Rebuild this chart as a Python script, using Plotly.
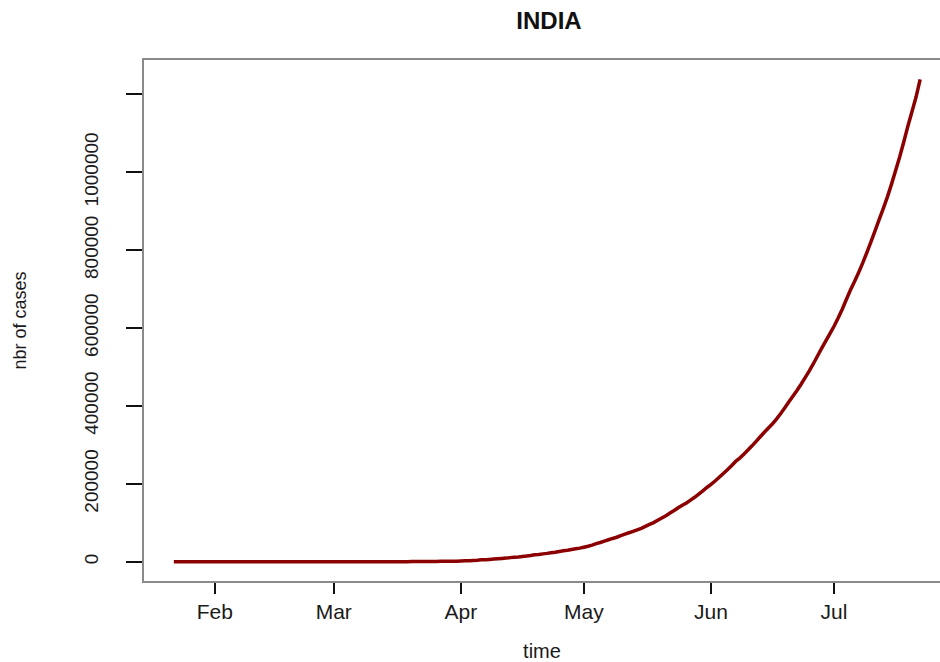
import pandas as pd
import plotly.graph_objects as go

# Cumulative confirmed COVID-19 cases in India, one value per day
start_date = "2020-01-22"
end_date = "2020-07-22"

cases_jan = [0, 0, 0, 0, 0, 0, 0, 0, 1, 1]
cases_feb = [1, 2] + [3] * 27
cases_mar = [3, 5, 5, 28, 30, 31, 34, 39, 43, 56, 62, 73, 82, 102, 113, 119,
             142, 156, 194, 244, 330, 396, 499, 536, 657, 727, 887, 987, 1024,
             1251, 1397]
cases_apr = [1998, 2543, 2567, 3082, 3588, 4778, 5311, 5916, 6725, 7598, 8446,
             9205, 10453, 11487, 12322, 13430, 14352, 15722, 17615, 18539,
             20080, 21370, 23077, 24530, 26283, 27890, 29451, 31324, 33062,
             34863]
cases_may = [37257, 39699, 42505, 46437, 49400, 52987, 56351, 59695, 62808,
             67161, 70768, 74292, 78055, 81997, 85784, 90648, 95698, 100328,
             106475, 112028, 118226, 124794, 131423, 138536, 144950, 150793,
             158086, 165386, 173491, 181827, 190609]
cases_jun = [198370, 207191, 216824, 226713, 236184, 246622, 257486, 265928,
             276146, 286605, 297535, 308993, 320922, 332424, 343091, 354065,
             366946, 380532, 395048, 410451, 425282, 440215, 456183, 473105,
             490401, 508953, 528859, 548318, 566840, 585481]
cases_jul = [604641, 625544, 648315, 673165, 697413, 719664, 742417, 767296,
             793802, 820916, 849553, 878254, 906752, 936181, 968876, 1003832,
             1039084, 1077781, 1118206, 1155191, 1193078, 1238635]

month_ticks = ["2020-02-01", "2020-03-01", "2020-04-01", "2020-05-01",
               "2020-06-01", "2020-07-01"]
month_labels = ["Feb", "Mar", "Apr", "May", "Jun", "Jul"]

y_ticks = [0, 200000, 400000, 600000, 800000, 1000000, 1200000]
y_labels = ["0", "200000", "400000", "600000", "800000", "1000000", ""]

dates = pd.date_range(start_date, end_date, freq="D")
cases = (cases_jan + cases_feb + cases_mar + cases_apr + cases_may
         + cases_jun + cases_jul)

FONT = "Liberation Sans, Arial, Helvetica, sans-serif"
W, H = 940, 662
PLOT_LEFT, PLOT_TOP, PLOT_BOTTOM = 144, 60, 581
FULL_RIGHT = 950  # the panel's right edge lies just past the page

# R-style 4% padding on both axes
span = dates[-1] - dates[0]
x_lo = dates[0] - 0.04 * span
x_hi_full = dates[-1] + 0.04 * span
visible = (W - PLOT_LEFT) / (FULL_RIGHT - PLOT_LEFT)
x_hi = x_lo + (x_hi_full - x_lo) * visible
y_max = max(cases)
y_lo, y_hi = -0.04 * y_max, 1.04 * y_max

fig = go.Figure(
    go.Scatter(
        x=list(dates), y=cases, mode="lines",
        line=dict(color="#8B0000", width=3.5, simplify=False),
        showlegend=False,
    )
)

fig.update_layout(
    width=W, height=H,
    margin=dict(l=PLOT_LEFT, r=0, t=PLOT_TOP, b=H - PLOT_BOTTOM),
    paper_bgcolor="white", plot_bgcolor="white",
    font=dict(family=FONT, color="#1a1a1a", size=19),
    title=dict(
        text="<b>INDIA</b>", x=549 / W, xref="container", xanchor="center",
        y=1 - 21 / H, yref="container", yanchor="middle",
        font=dict(family=FONT, size=24, color="#111111"),
    ),
)

fig.update_xaxes(
    range=[x_lo, x_hi],
    tickmode="array", tickvals=month_ticks, ticktext=month_labels,
    showgrid=False, zeroline=False,
    showline=True, linecolor="#8a8a8a", linewidth=2, mirror=True,
    ticks="outside", ticklen=11, tickwidth=1.5, tickcolor="#111111",
    ticklabelstandoff=0,
    tickfont=dict(size=21),
    title=dict(text="time", standoff=24, font=dict(size=20)),
)

fig.update_yaxes(
    range=[y_lo, y_hi],
    tickmode="array", tickvals=y_ticks, ticktext=y_labels,
    tickangle=-90,
    showgrid=False, zeroline=False,
    showline=True, linecolor="#8a8a8a", linewidth=2,
    ticks="outside", ticklen=16, tickwidth=1.5, tickcolor="#111111",
    ticklabelstandoff=20,
    tickfont=dict(size=19),
    title=dict(text="nbr of cases", standoff=50, font=dict(size=18)),
)

fig.write_html("out.html")
